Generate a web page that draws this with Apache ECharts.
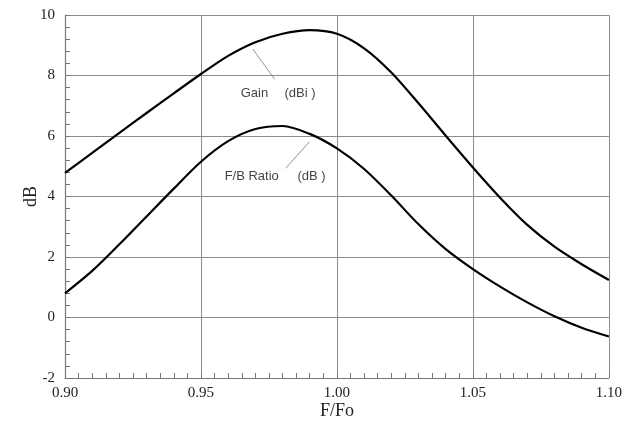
<!DOCTYPE html>
<html>
<head>
<meta charset="utf-8">
<script src="https://cdn.jsdelivr.net/npm/echarts@6/dist/echarts.min.js"></script>
<style>
  html, body { margin: 0; padding: 0; background: #fff; }
  #chart { width: 625px; height: 430px; }
</style>
</head>
<body>
<div id="chart"></div>
<script>
// Normalised frequency F/Fo
const freq = [0.90, 0.91, 0.92, 0.93, 0.94, 0.95, 0.96, 0.97, 0.98, 0.99, 1.00,
              1.01, 1.02, 1.03, 1.04, 1.05, 1.06, 1.07, 1.08, 1.09, 1.10];
// Forward gain (dBi)
const gain = [4.78, 5.44, 6.10, 6.76, 7.41, 8.05, 8.65, 9.10, 9.38, 9.50, 9.38,
              8.90, 8.10, 7.08, 6.01, 4.96, 3.96, 3.06, 2.34, 1.76, 1.24];
// Front-to-back ratio (dB)
const fbRatio = [0.80, 1.54, 2.42, 3.34, 4.26, 5.15, 5.83, 6.23, 6.33, 6.07, 5.59,
                 4.91, 4.03, 3.08, 2.26, 1.60, 1.02, 0.50, 0.04, -0.34, -0.63];

// Curve captions and their leader lines (data coordinates)
const captions = [
  [0.9646, 7.42, 'Gain'], [0.9807, 7.42, '(dBi )'],
  [0.9587, 4.68, 'F/B Ratio'], [0.9855, 4.68, '(dB )']
];
const gainLeader = [[0.9691, 8.87], [0.9771, 7.88]];
const fbLeader = [[0.9899, 5.81], [0.9811, 4.93]];

const serif = '"Liberation Serif", "DejaVu Serif", serif';
const gridColor = '#8c8c8c';

function pairs(xs, ys) { return xs.map((x, i) => [x, ys[i]]); }
function leader(pts) {
  return {
    silent: true, symbol: 'none', animation: false,
    label: { show: false },
    lineStyle: { color: '#777', width: 0.8, type: 'solid' },
    emphasis: { disabled: true },
    data: [[{ coord: pts[0] }, { coord: pts[1] }]]
  };
}

const chart = echarts.init(document.getElementById('chart'), null, { renderer: 'canvas' });
chart.setOption({
  animation: false,
  backgroundColor: '#fff',
  grid: { left: 65, right: 15, top: 15, bottom: 52, containLabel: false },
  xAxis: {
    type: 'value', min: 0.9, max: 1.1, interval: 0.05,
    name: 'F/Fo', nameLocation: 'middle', nameGap: 24, nameMoveOverlap: false,
    nameTextStyle: { fontFamily: serif, fontSize: 18, color: '#222' },
    axisLine: { show: true, onZero: false, lineStyle: { color: '#777', width: 1.2 } },
    axisTick: { show: true, inside: true, length: 5, lineStyle: { color: '#777' } },
    minorTick: { show: true, splitNumber: 10, length: 5, lineStyle: { color: '#777' } },
    axisLabel: { fontFamily: serif, fontSize: 15, color: '#222', margin: 8,
                 formatter: v => v.toFixed(2) },
    splitLine: { show: true, lineStyle: { color: gridColor, width: 1 } }
  },
  yAxis: {
    type: 'value', min: -2, max: 10, interval: 2,
    name: 'dB', nameLocation: 'middle', nameGap: 25, nameMoveOverlap: false,
    nameTextStyle: { fontFamily: serif, fontSize: 18, color: '#222' },
    axisLine: { show: true, onZero: false, lineStyle: { color: '#777', width: 1.2 } },
    axisTick: { show: true, inside: true, length: 5, lineStyle: { color: '#777' } },
    minorTick: { show: true, splitNumber: 5, length: 5, lineStyle: { color: '#777' } },
    axisLabel: { fontFamily: serif, fontSize: 15, color: '#222', margin: 10 },
    splitLine: { show: true, lineStyle: { color: gridColor, width: 1 } }
  },
  series: [
    {
      name: 'Gain', type: 'line', data: pairs(freq, gain),
      smooth: 0.3, showSymbol: false, silent: true,
      lineStyle: { color: '#000', width: 2.2 },
      markLine: leader(gainLeader)
    },
    {
      name: 'F/B Ratio', type: 'line', data: pairs(freq, fbRatio),
      smooth: 0.3, showSymbol: false, silent: true,
      lineStyle: { color: '#000', width: 2.2 },
      markLine: leader(fbLeader)
    },
    {
      name: 'captions', type: 'scatter', data: captions,
      symbolSize: 0, silent: true,
      label: {
        show: true, position: 'right', distance: 0,
        formatter: p => p.data[2],
        fontFamily: '"Liberation Sans", Arial, sans-serif',
        fontSize: 13, color: '#111'
      }
    }
  ]
});
</script>
</body>
</html>
